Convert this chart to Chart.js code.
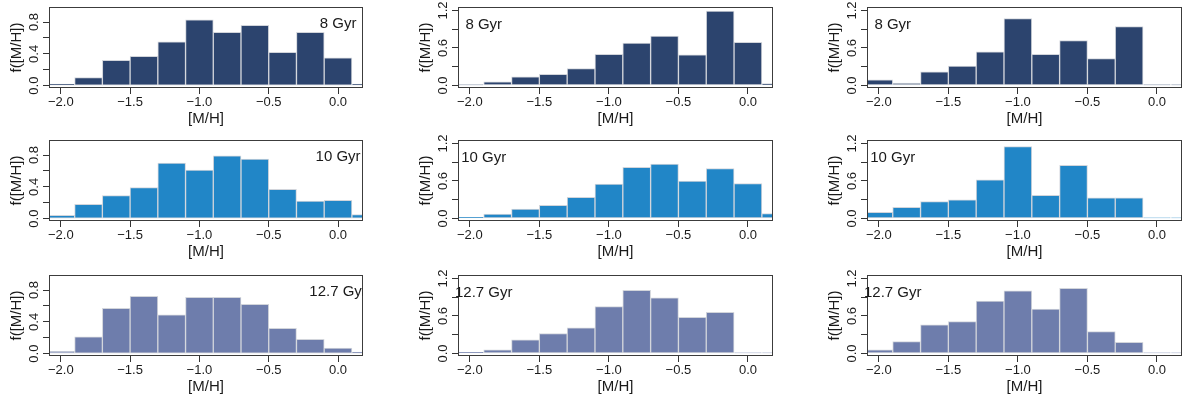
<!DOCTYPE html>
<html>
<head>
<meta charset="utf-8">
<script src="https://cdn.jsdelivr.net/npm/chart.js@4.4.1/dist/chart.umd.min.js"></script>
<style>
  body { margin: 0; background: #fff; }
  .cell { position: absolute; }
</style>
</head>
<body>
<script>
// bin centres of the [M/H] histogram, 0.2 dex wide
const BIN_CENTERS = [-2.0, -1.8, -1.6, -1.4, -1.2, -1.0, -0.8, -0.6, -0.4, -0.2, 0.0, 0.2]
const AGES = ['8 Gyr', '10 Gyr', '12.7 Gyr']
const X_TICKS = [-2.0, -1.5, -1.0, -0.5, 0.0]

// y ticks (marks) and the ones that get a label, per column
const Y_TICKS_LEFT = [0, 0.2, 0.4, 0.6, 0.8]
const Y_LABELS_LEFT = [0, 0.4, 0.8]
const Y_TICKS_RIGHT = [0, 0.3, 0.6, 0.9, 1.2]
const Y_LABELS_RIGHT = [0, 0.6, 1.2]

// column 1
const col1_8 = [0.02, 0.10, 0.32, 0.37, 0.55, 0.83, 0.67, 0.76, 0.42, 0.67, 0.35, 0.02]
const col1_10 = [0.04, 0.18, 0.29, 0.39, 0.70, 0.61, 0.79, 0.75, 0.37, 0.22, 0.23, 0.05]
const col1_127 = [0.03, 0.21, 0.57, 0.72, 0.49, 0.71, 0.71, 0.62, 0.32, 0.18, 0.07, 0.02]
// column 2
const col2_8 = [0.01, 0.06, 0.14, 0.18, 0.27, 0.50, 0.68, 0.79, 0.49, 1.19, 0.69, 0.03]
const col2_10 = [0.02, 0.07, 0.15, 0.21, 0.34, 0.55, 0.82, 0.87, 0.60, 0.80, 0.56, 0.08]
const col2_127 = [0.02, 0.06, 0.22, 0.32, 0.41, 0.75, 1.01, 0.89, 0.58, 0.66, 0.01, 0.01]
// column 3
const col3_8 = [0.09, 0.04, 0.22, 0.31, 0.54, 1.07, 0.50, 0.72, 0.43, 0.94, 0.01, 0.01]
const col3_10 = [0.10, 0.18, 0.27, 0.30, 0.62, 1.15, 0.37, 0.85, 0.33, 0.33, 0.01, 0.01]
const col3_127 = [0.06, 0.19, 0.46, 0.51, 0.84, 1.00, 0.71, 1.04, 0.35, 0.18, 0.01, 0.01]

const ROW_COLORS = ['#2c446e', '#2186c7', '#6e7dac']
const FONT = "'Liberation Sans', Arial, sans-serif"
const INK = '#1a1a1a'

const minus = (s) => s.replace('-', '\u2212')

const panels = [
  [col1_8, col2_8, col3_8],
  [col1_10, col2_10, col3_10],
  [col1_127, col2_127, col3_127]
]

const COL_LEFT = [0, 409, 818]
const ROW_TOP = [0, 133, 268]

// box round the plot, y labels drawn upright like R, and the age label
const panelDecor = {
  id: 'panelDecor',
  afterDraw(chart, args, opts) {
    const {ctx, chartArea: a, scales: {x, y}} = chart
    ctx.save()
    ctx.strokeStyle = '#3c3c3c'
    ctx.lineWidth = 1
    ctx.strokeRect(a.left + 0.5, a.top + 0.5, a.width - 1, a.height - 1)

    ctx.fillStyle = INK
    ctx.font = '13px ' + FONT
    ctx.textAlign = 'center'
    ctx.textBaseline = 'middle'
    opts.yLabels.forEach((v) => {
      ctx.save()
      ctx.translate(a.left - 15, y.getPixelForValue(v))
      ctx.rotate(-Math.PI / 2)
      ctx.fillText(v.toFixed(1), 0, 0)
      ctx.restore()
    })

    ctx.beginPath()
    ctx.rect(0, 0, a.right, chart.height)
    ctx.clip()
    ctx.font = '15px ' + FONT
    ctx.fillText(opts.label, x.getPixelForValue(opts.labelX), y.getPixelForValue(opts.labelY))
    ctx.restore()
  }
}

panels.forEach((row, r) => {
  row.forEach((values, c) => {
    const div = document.createElement('div')
    div.className = 'cell'
    div.style.left = COL_LEFT[c] + 'px'
    div.style.top = ROW_TOP[r] + 'px'
    const canvas = document.createElement('canvas')
    canvas.width = 370
    canvas.height = 128
    div.appendChild(canvas)
    document.body.appendChild(div)

    const left = c === 0
    const yTicks = left ? Y_TICKS_LEFT : Y_TICKS_RIGHT

    new Chart(canvas, {
      type: 'bar',
      data: {
        datasets: [{
          data: BIN_CENTERS.map((x, i) => ({x, y: values[i]})),
          backgroundColor: ROW_COLORS[r],
          borderColor: '#d2d5db',
          borderWidth: 1,
          borderSkipped: false,
          barPercentage: 1,
          categoryPercentage: 1
        }]
      },
      options: {
        responsive: false,
        animation: false,
        devicePixelRatio: 1,
        layout: {padding: {top: 7, right: left ? 7 : 6, left: 0, bottom: 0}},
        plugins: {
          legend: {display: false},
          tooltip: {enabled: false},
          panelDecor: {
            yLabels: left ? Y_LABELS_LEFT : Y_LABELS_RIGHT,
            label: AGES[r],
            labelX: left ? 0.0 : -1.9,
            labelY: left ? 0.78 : 0.97
          }
        },
        scales: {
          x: {
            type: 'linear',
            offset: false,
            min: -2.085,
            max: 0.18,
            afterBuildTicks: (s) => { s.ticks = X_TICKS.map((v) => ({value: v})) },
            afterFit: (s) => { s.height = 40 },
            ticks: {
              maxRotation: 0,
              padding: 1,
              color: INK,
              font: {family: FONT, size: 13},
              callback: (v) => minus(Number(v).toFixed(1))
            },
            grid: {offset: false, drawOnChartArea: false, tickLength: 6, color: '#333'},
            border: {display: false},
            title: {
              display: true,
              text: '[M/H]',
              color: INK,
              font: {family: FONT, size: 15},
              padding: {top: 0, bottom: 0}
            }
          },
          y: {
            min: left ? -0.03 : -0.04,
            max: left ? 0.99 : 1.255,
            afterBuildTicks: (s) => { s.ticks = yTicks.map((v) => ({value: v})) },
            afterFit: (s) => { s.width = 49 },
            ticks: {display: false},
            grid: {drawOnChartArea: false, tickLength: 6, color: '#333'},
            border: {display: false},
            title: {
              display: true,
              text: 'f([M/H])',
              color: INK,
              font: {family: FONT, size: 15},
              padding: {top: 8, bottom: 0}
            }
          }
        }
      },
      plugins: [panelDecor]
    })
  })
})
</script>
</body>
</html>
